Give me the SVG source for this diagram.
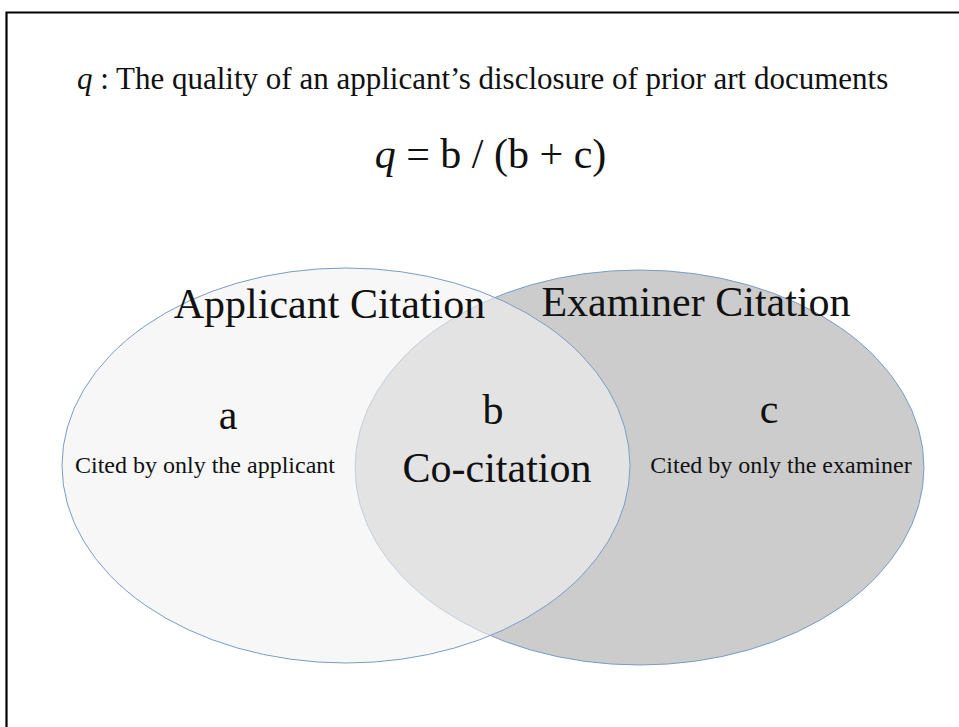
<svg xmlns="http://www.w3.org/2000/svg" width="959" height="727" viewBox="0 0 959 727">
<style>
text{font-family:"Liberation Serif","Times New Roman",serif;fill:#111}
.big{font-size:42px}
.small{font-size:24px}
.set{stroke:#7a9cc6;stroke-width:1}
</style>
<rect width="959" height="727" fill="#fff"/>
<path d="M6.5 727 V12.5 H959" fill="none" stroke="#000" stroke-width="2.2"/>
<text x="77" y="89" font-size="31"><tspan font-style="italic">q</tspan> : The quality of an applicant’s disclosure of prior art documents</text>
<text x="490.5" y="168" class="big" text-anchor="middle"><tspan font-style="italic">q</tspan> = b / (b + c)</text>
<g id="examiner">
<ellipse class="set" cx="639.5" cy="467.5" rx="284.5" ry="197.5" fill="#cccccc"/>
</g>
<g id="applicant">
<ellipse class="set" cx="346" cy="465.5" rx="284" ry="197.5" fill="#f2f2f2" fill-opacity="0.6"/>
</g>
<g id="labels">
<text x="329.5" y="318" class="big" text-anchor="middle">Applicant Citation</text>
<text x="696" y="316" class="big" text-anchor="middle">Examiner Citation</text>
<text x="228" y="429" class="big" text-anchor="middle">a</text>
<text x="493" y="424" class="big" text-anchor="middle">b</text>
<text x="769" y="423" class="big" text-anchor="middle">c</text>
<text x="205" y="473" class="small" text-anchor="middle">Cited by only the applicant</text>
<text x="497" y="482" class="big" text-anchor="middle">Co-citation</text>
<text x="781" y="473" class="small" text-anchor="middle">Cited by only the examiner</text>
</g>
</svg>
